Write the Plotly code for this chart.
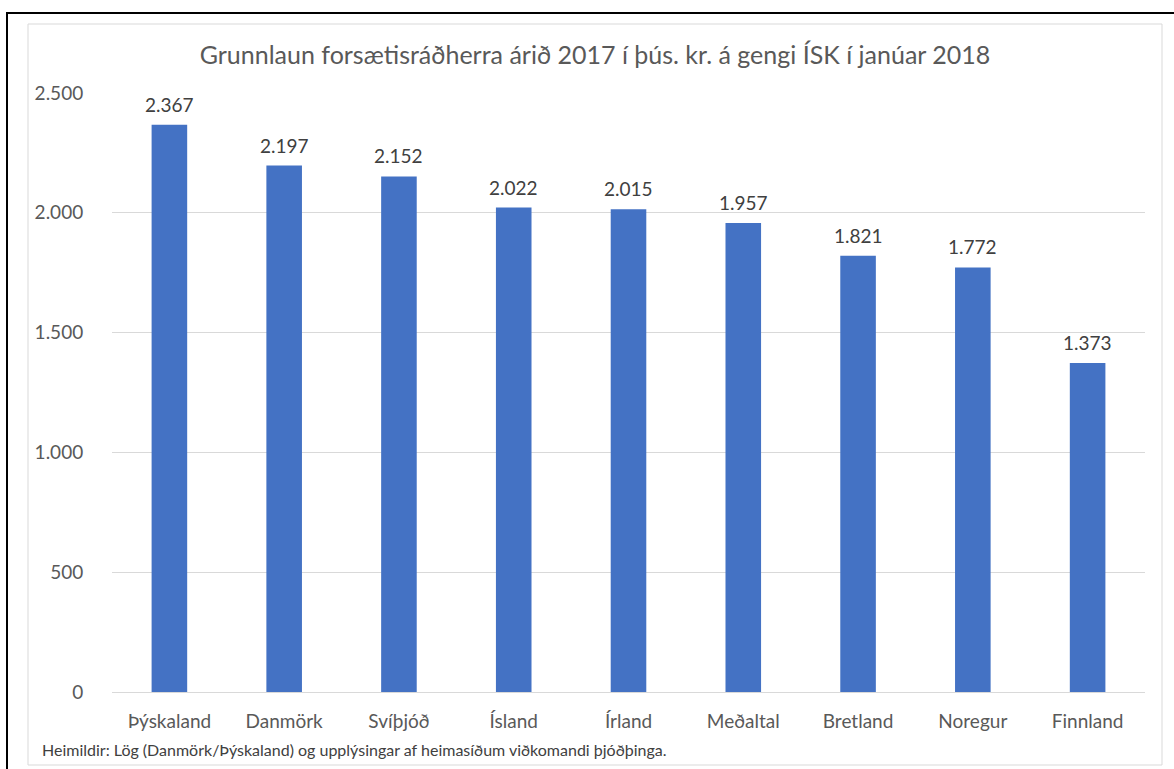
import plotly.graph_objects as go

# Grunnlaun forsætisráðherra 2017, þús. kr.
countries = ["Þýskaland", "Danmörk", "Svíþjóð", "Ísland", "Írland",
             "Meðaltal", "Bretland", "Noregur", "Finnland"]
salaries = [2367, 2197, 2152, 2022, 2015, 1957, 1821, 1772, 1373]
y_ticks = [0, 500, 1000, 1500, 2000, 2500]

W, H = 1174, 769
L, R, T, B = 112, 1145, 93, 692  # plot area in pixels

def px(x):
    return (x - L) / (R - L)

def py(y):
    return (B - y) / (B - T)

FONT = "Lato"
GREY = "#595959"

fig = go.Figure(go.Bar(
    x=countries,
    y=salaries,
    marker=dict(color="#4472C4", line=dict(width=0)),
    width=0.31,
    cliponaxis=False,
    hoverinfo="skip",
))

# value labels above each bar, thousands separated by "."
value_labels = [
    dict(x=c, y=v, xref="x", yref="y",
         text=f"{v:,}".replace(",", "."),
         showarrow=False, yanchor="bottom", yshift=7,
         font=dict(family=FONT, size=19, color="#404040"))
    for c, v in zip(countries, salaries)
]

fig.update_layout(
    width=W, height=H,
    margin=dict(l=L, r=W - R, t=T, b=H - B, pad=0),
    paper_bgcolor="white",
    plot_bgcolor="white",
    separators=",.",
    showlegend=False,
    font=dict(family=FONT, color=GREY),
    title=dict(
        text="Grunnlaun forsætisráðherra árið 2017 í þús. kr. á gengi ÍSK í janúar 2018",
        x=px(595), xref="paper", xanchor="center",
        y=1 - 55 / H, yref="container", yanchor="middle",
        font=dict(family=FONT, size=25, color=GREY),
    ),
    xaxis=dict(
        showgrid=False,
        showline=False,
        ticks="outside", ticklen=12, tickcolor="rgba(0,0,0,0)",
        tickfont=dict(family=FONT, size=19, color=GREY),
    ),
    yaxis=dict(
        range=[0, 2500],
        tickvals=y_ticks,
        tickformat=",",
        showgrid=True, gridcolor="#D9D9D9", gridwidth=1,
        zeroline=True, zerolinecolor="#D9D9D9", zerolinewidth=1,
        showline=False,
        ticks="outside", ticklen=24, tickcolor="rgba(0,0,0,0)",
        tickfont=dict(family=FONT, size=19, color=GREY),
    ),
    shapes=[
        # outer black frame
        dict(type="rect", xref="paper", yref="paper",
             x0=px(7), x1=px(1190), y0=py(13), y1=py(790),
             line=dict(color="black", width=2), fillcolor="rgba(0,0,0,0)",
             layer="above"),
        # chart area border
        dict(type="rect", xref="paper", yref="paper",
             x0=px(28), x1=px(1162), y0=py(24), y1=py(765),
             line=dict(color="#D9D9D9", width=1), fillcolor="rgba(0,0,0,0)",
             layer="below"),
    ],
    annotations=value_labels + [
        dict(
            text="Heimildir: Lög (Danmörk/Þýskaland) og upplýsingar af heimasíðum viðkomandi þjóðþinga.",
            xref="paper", yref="paper",
            x=px(40), y=py(749), xanchor="left", yanchor="middle",
            showarrow=False,
            font=dict(family=FONT, size=16, color="#404040"),
        )
    ],
)

fig.write_html("out.html")
